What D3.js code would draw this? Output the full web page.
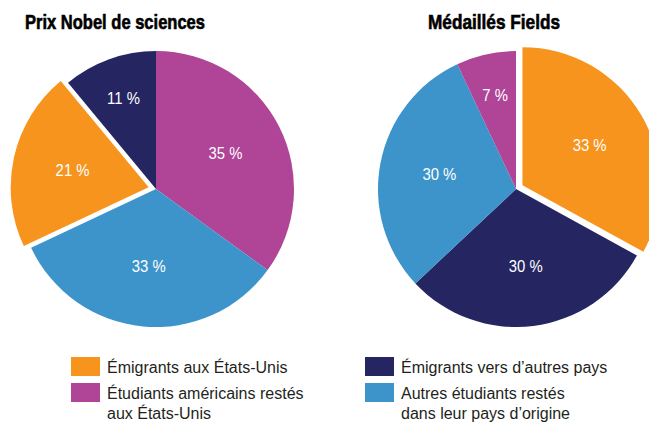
<!DOCTYPE html>
<html>
<head>
<meta charset="utf-8">
<script src="https://d3js.org/d3.v7.min.js"></script>
<style>
  body { margin: 0; background: #fff; }
  text { font-family: "Liberation Sans", Arial, sans-serif; }
</style>
</head>
<body>
<div id="chart"></div>
<script>
/* two pies: where the science Nobel and Fields laureates ended up */

// data
var categories = ["Émigrants aux États-Unis", "Étudiants américains restés aux États-Unis",
                  "Émigrants vers d’autres pays", "Autres étudiants restés dans leur pays d’origine"]
var nobel_order = ["Étudiants américains restés aux États-Unis", "Autres étudiants restés dans leur pays d’origine",
                   "Émigrants aux États-Unis", "Émigrants vers d’autres pays"]
var nobel_values = [35, 33, 21, 11]
var fields_order = ["Émigrants aux États-Unis", "Émigrants vers d’autres pays",
                    "Autres étudiants restés dans leur pays d’origine", "Étudiants américains restés aux États-Unis"]
var fields_values = [33, 30, 30, 7]
var titles = ["Prix Nobel de sciences", "Médaillés Fields"]
var exploded = "Émigrants aux États-Unis"

// legend lines (wrapped like the original)
var legend_lines = [["Émigrants aux États-Unis"], ["Étudiants américains restés", "aux États-Unis"],
                    ["Émigrants vers d’autres pays"], ["Autres étudiants restés", "dans leur pays d’origine"]]

var width = 649, height = 422
var radius = 138

var color = d3.scaleOrdinal()
    .domain(categories)
    .range(["#f7941d", "#b04497", "#252562", "#3d94cb"])

var svg = d3.select("#chart")
    .append("svg")
    .attr("width", width)
    .attr("height", height)

var pie = d3.pie()
    .sort(null)
    .value(function(d) { return d.value })

var arc = d3.arc()
    .innerRadius(0)
    .outerRadius(radius)

// small slices get their label pushed further out
var labelArc = d3.arc()
    .innerRadius(function(d) { return d.data.value < 15 ? 96 : 78 })
    .outerRadius(function(d) { return d.data.value < 15 ? 96 : 78 })

// settings for each pie
var charts = [
    {title: titles[0], names: nobel_order, values: nobel_values, cx: 156, cy: 189, tx: 25, tw: 180},
    {title: titles[1], names: fields_order, values: fields_values, cx: 516, cy: 189, tx: 428, tw: 132}
]

function explode(d) {
    if (d.data.name != exploded) return [0, 0]
    var a = (d.startAngle + d.endAngle) / 2
    return [Math.sin(a) * 7.5, -Math.cos(a) * 7.5]
}

charts.forEach(function(c) {
    var g = svg.append("g")
        .attr("transform", "translate(" + c.cx + "," + c.cy + ")")

    var rows = c.names.map(function(n, i) { return {name: n, value: c.values[i]} })
    var slices = pie(rows)

    g.selectAll("path")
        .data(slices)
        .enter()
        .append("path")
        .attr("d", arc)
        .attr("fill", function(d) { return color(d.data.name) })
        .attr("transform", function(d) { return "translate(" + explode(d) + ")" })

    g.selectAll(".pct")
        .data(slices)
        .enter()
        .append("text")
        .attr("class", "pct")
        .attr("transform", function(d) {
            var p = labelArc.centroid(d), o = explode(d)
            return "translate(" + (p[0] + o[0]) + "," + (p[1] + o[1]) + ") scale(0.93,1)"
        })
        .attr("text-anchor", "middle")
        .attr("dy", "0.35em")
        .attr("fill", "#fff")
        .attr("font-size", 16)
        .text(function(d) { return d.data.value + " %" })

    // title, condensed bold
    svg.append("text")
        .attr("x", c.tx)
        .attr("y", 29)
        .attr("font-size", 20)
        .attr("font-weight", "bold")
        .attr("fill", "#000")
        .attr("stroke", "#000")
        .attr("stroke-width", 0.6)
        .attr("textLength", c.tw)
        .attr("lengthAdjust", "spacingAndGlyphs")
        .text(c.title)
})

// legend, two columns
var legend = svg.append("g").selectAll("g")
    .data(categories)
    .enter()
    .append("g")
    .attr("transform", function(d, i) {
        return "translate(" + (i < 2 ? 71 : 365) + "," + (i % 2 == 0 ? 357 : 383) + ")"
    })

legend.append("rect")
    .attr("width", 29)
    .attr("height", 19)
    .attr("fill", function(d) { return color(d) })

legend.append("text")
    .attr("x", 36)
    .attr("y", 16)
    .attr("font-size", 16)
    .attr("fill", "#231f20")
    .selectAll("tspan")
    .data(function(d, i) { return legend_lines[i] })
    .enter()
    .append("tspan")
    .attr("x", 36)
    .attr("dy", function(d, i) { return i == 0 ? 0 : 20 })
    .text(function(d) { return d })
</script>
</body>
</html>
